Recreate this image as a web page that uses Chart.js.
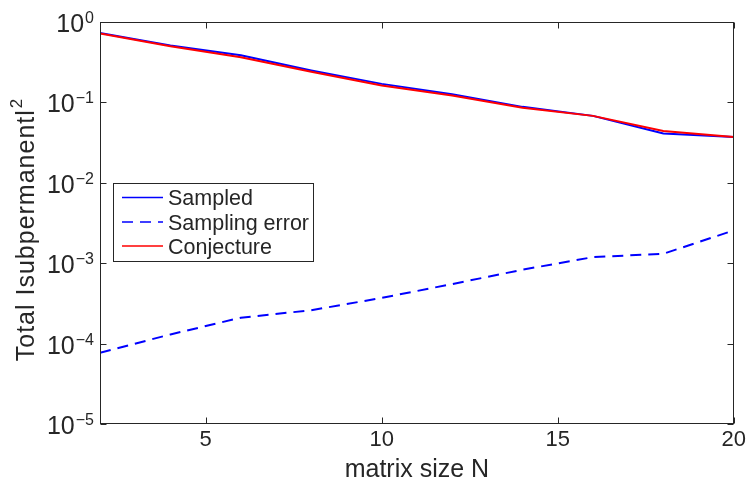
<!DOCTYPE html>
<html>
<head>
<meta charset="utf-8">
<script src="https://cdn.jsdelivr.net/npm/chart.js@4.4.1/dist/chart.umd.min.js"></script>
<style>
  html, body { margin: 0; padding: 0; background: #ffffff; }
  #wrap { width: 749px; height: 482px; position: relative; }
</style>
</head>
<body>
<div id="wrap"><canvas id="c" width="749" height="482"></canvas></div>
<script>
// Matrix sizes and the three measured / predicted curves
const matrixSizes   = [2, 4, 6, 8, 10, 12, 14, 16, 18, 20];
const sampled       = [0.73, 0.51, 0.385, 0.25, 0.17, 0.126, 0.088, 0.068, 0.041, 0.037];
const samplingError = [7.7e-5, 1.3e-4, 2.1e-4, 2.6e-4, 3.7e-4, 5.5e-4, 8.3e-4, 1.19e-3, 1.31e-3, 2.56e-3];
const conjecture    = [0.72, 0.50, 0.365, 0.24, 0.162, 0.122, 0.086, 0.068, 0.044, 0.037];

// Axis ticks
const xTicks   = [5, 10, 15, 20];
const yDecades = [-5, -4, -3, -2, -1, 0];

const seriesLabels = ['Sampled', 'Sampling error', 'Conjecture'];
const xTitle = 'matrix size N';
const yTitle = 'Total Isubpermanentl';
const yTitleSup = '2';

const FONT = '"Liberation Sans", Arial, Helvetica, sans-serif';
const INK = '#262626';
const DASH = [11, 7];

const pairs = ys => matrixSizes.map((n, i) => ({ x: n, y: ys[i] }));

// Box, inward ticks, superscript tick labels, axis titles and legend
const framePlugin = {
  id: 'frame',
  afterDraw(chart) {
    const ctx = chart.ctx;
    const a = chart.chartArea;
    const xs = chart.scales.x, ys = chart.scales.y;
    const L = Math.round(a.left) + 0.5, R = Math.round(a.right) - 0.5;
    const T = Math.round(a.top) + 0.5, B = Math.round(a.bottom) - 0.5;
    ctx.save();
    ctx.strokeStyle = INK;
    ctx.lineWidth = 1;
    ctx.strokeRect(L, T, R - L, B - T);

    const tk = 6;
    ctx.beginPath();
    xTicks.forEach(v => {
      const px = Math.round(xs.getPixelForValue(v)) + 0.5;
      ctx.moveTo(px, B); ctx.lineTo(px, B - tk);
      ctx.moveTo(px, T); ctx.lineTo(px, T + tk);
    });
    yDecades.forEach(d => {
      const py = Math.round(ys.getPixelForValue(Math.pow(10, d))) + 0.5;
      ctx.moveTo(L, py); ctx.lineTo(L + tk, py);
      ctx.moveTo(R, py); ctx.lineTo(R - tk, py);
    });
    ctx.stroke();

    // y tick labels: 10 with a raised exponent
    ctx.fillStyle = INK;
    ctx.textAlign = 'left';
    ctx.textBaseline = 'alphabetic';
    yDecades.forEach(d => {
      const py = ys.getPixelForValue(Math.pow(10, d));
      const exp = d === 0 ? '0' : '\u2212' + (-d);
      ctx.font = '16px ' + FONT;
      const ew = ctx.measureText(exp).width;
      const right = 94;
      ctx.fillText(exp, right - ew, py + 1);
      ctx.font = '25px ' + FONT;
      const bw = ctx.measureText('10').width;
      ctx.fillText('10', right - ew - bw - 1, py + 10);
    });

    // x axis title
    ctx.font = '25px ' + FONT;
    ctx.textAlign = 'center';
    ctx.fillText(xTitle, (a.left + a.right) / 2, 477);

    // y axis title, rotated, with superscript
    ctx.save();
    ctx.translate(34, 229.5);
    ctx.rotate(-Math.PI / 2);
    ctx.textAlign = 'left';
    ctx.font = '25px ' + FONT;
    try { ctx.letterSpacing = '1px'; } catch (e) {}
    const tw = ctx.measureText(yTitle).width;
    ctx.font = '17px ' + FONT;
    const sw = ctx.measureText(yTitleSup).width;
    const total = tw + sw + 1;
    ctx.font = '25px ' + FONT;
    ctx.fillText(yTitle, -total / 2, 0);
    ctx.font = '17px ' + FONT;
    ctx.fillText(yTitleSup, -total / 2 + tw + 1, -12);
    try { ctx.letterSpacing = '0px'; } catch (e) {}
    ctx.restore();

    // legend
    const lx = 113.5, ly = 183.5, lw = 200, lh = 78;
    ctx.fillStyle = '#ffffff';
    ctx.fillRect(lx, ly, lw, lh);
    ctx.strokeStyle = INK;
    ctx.lineWidth = 1;
    ctx.strokeRect(lx, ly, lw, lh);
    const rows = [197.5, 222, 246];
    ctx.font = '21.5px ' + FONT;
    ctx.textAlign = 'left';
    chart.data.datasets.forEach((ds, i) => {
      const cy = rows[i];
      ctx.save();
      ctx.strokeStyle = ds.borderColor;
      ctx.lineWidth = 1.5;
      ctx.setLineDash(ds.borderDash || []);
      ctx.beginPath();
      ctx.moveTo(122, cy); ctx.lineTo(163, cy);
      ctx.stroke();
      ctx.restore();
      ctx.fillStyle = INK;
      ctx.fillText(ds.label, 168, cy + 7.5);
    });
    ctx.restore();
  }
};

new Chart(document.getElementById('c'), {
  type: 'line',
  data: {
    datasets: [
      { label: seriesLabels[0], data: pairs(sampled), borderColor: '#0000ff', borderWidth: 2, order: 1 },
      { label: seriesLabels[1], data: pairs(samplingError), borderColor: '#0000ff', borderWidth: 2, borderDash: DASH, order: 2 },
      { label: seriesLabels[2], data: pairs(conjecture), borderColor: '#ff0000', borderWidth: 2, order: 0 }
    ]
  },
  options: {
    responsive: false,
    animation: false,
    devicePixelRatio: 1,
    layout: { padding: { top: 22, right: 15, left: 0, bottom: 0 } },
    elements: { point: { radius: 0 }, line: { tension: 0, fill: false } },
    plugins: { legend: { display: false }, tooltip: { enabled: false } },
    scales: {
      x: {
        type: 'linear', min: 2, max: 20,
        afterBuildTicks: s => { s.ticks = xTicks.map(v => ({ value: v })); },
        grid: { display: false, drawTicks: false },
        border: { display: false },
        ticks: { font: { family: FONT, size: 22 }, color: INK, padding: 3, maxRotation: 0, autoSkip: false },
        afterFit: s => { s.height = 58; }
      },
      y: {
        type: 'logarithmic', min: 1e-5, max: 1,
        afterBuildTicks: s => { s.ticks = yDecades.map(d => ({ value: Math.pow(10, d), major: true })); },
        grid: { display: false, drawTicks: false },
        border: { display: false },
        ticks: { display: false },
        afterFit: s => { s.width = 100; }
      }
    }
  },
  plugins: [framePlugin]
});
</script>
</body>
</html>
